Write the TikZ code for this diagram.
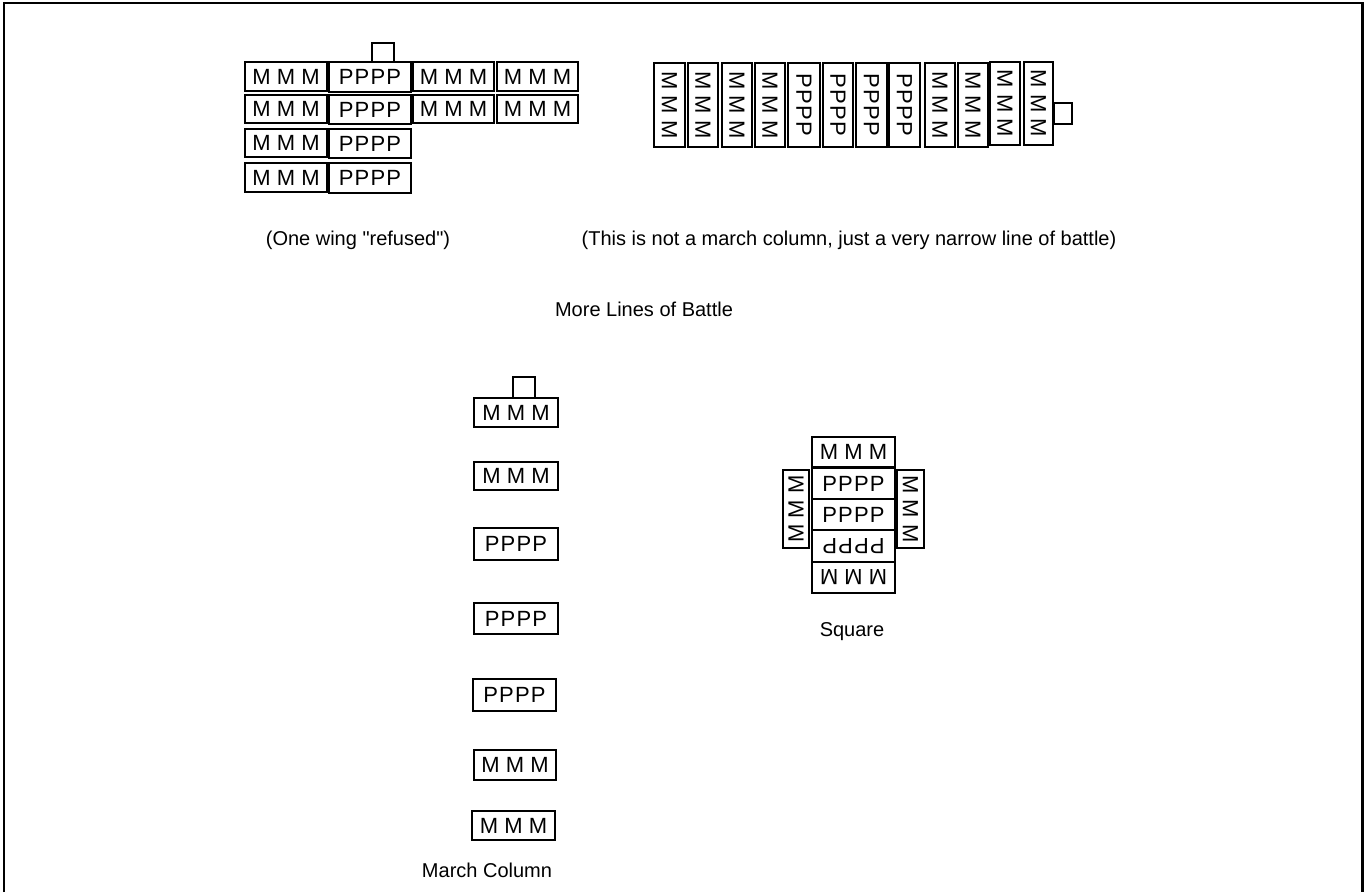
\documentclass[tikz,border=0pt]{standalone}
\usepackage{fontspec}
\newfontfamily\lsans{Liberation Sans}
\newcommand\unitfont{\lsans\fontsize{22}{22}\selectfont}
\newcommand\labfont{\lsans\fontsize{20}{20}\selectfont}
\newcommand\ubox[6]{\node[unit, minimum width={#4-#2}, minimum height={#5-#3}] (#1) at ({(#2+#4)/2},{(#3+#5)/2}) {#6};}
\newcommand\PPPP{P\kern1.2pt P\kern1.2pt P\kern1.2pt P}
\newcommand\vM{\rotatebox{-90}{M M M}}
\newcommand\vP{\rotatebox{-90}{\PPPP}}
\tikzset{
  unit/.style={draw, line width=1.1pt, inner sep=0pt, font=\unitfont},
  lab/.style={font=\labfont, inner sep=0pt},
  frame/.style={line width=2.7pt}
}
\begin{document}
\begin{tikzpicture}[x=1pt,y=-1pt]
\useasboundingbox (0,0) rectangle (1364,892);
\draw[frame] (4,892) -- (4,3) -- (1362.7,3) -- (1362.7,892);
% One wing refused
\ubox{a1}{245}{62}{327}{91}{M M M}
\ubox{b1}{329}{62}{411}{92}{\PPPP}
\ubox{c1}{413}{62}{494}{91}{M M M}
\ubox{d1}{497}{62}{578}{91}{M M M}
\ubox{a2}{245}{95}{327}{123}{M M M}
\ubox{b2}{329}{95}{411}{124}{\PPPP}
\ubox{c2}{413}{95}{494}{123}{M M M}
\ubox{d2}{497}{95}{578}{123}{M M M}
\ubox{a3}{245}{129}{327}{157}{M M M}
\ubox{b3}{329}{129}{411}{158}{\PPPP}
\ubox{a4}{245}{163}{327}{192}{M M M}
\ubox{b4}{329}{163}{411}{193}{\PPPP}
\ubox{cmdA}{372}{43}{394}{62}{}
% narrow line of battle
\ubox{n1}{654}{63}{685}{147}{\vM}
\ubox{n2}{688}{63}{718}{147}{\vM}
\ubox{n3}{722}{63}{752}{147}{\vM}
\ubox{n4}{755}{63}{785}{147}{\vM}
\ubox{n5}{788}{63}{820}{147}{\vP}
\ubox{n6}{823}{63}{853}{147}{\vP}
\ubox{n7}{856}{63}{887}{147}{\vP}
\ubox{n8}{889}{63}{920}{147}{\vP}
\ubox{n9}{925}{63}{955}{147}{\vM}
\ubox{n10}{958}{63}{988}{147}{\vM}
\ubox{n11}{990}{62}{1020}{145}{\vM}
\ubox{n12}{1024}{62}{1053}{145}{\vM}
\ubox{cmdB}{1054}{103}{1072}{124}{}
% labels
\node[lab] (l1) at (358,240) {(One wing "refused")};
\node[lab] (l2) at (849,240) {(This is not a march column, just a very narrow line of battle)};
\node[lab] (l3) at (644,309) {More Lines of Battle};
% march column
\ubox{cmdC}{513}{377}{535}{398}{}
\ubox{m1}{474}{398}{558}{427}{M M M}
\ubox{m2}{474}{462}{558}{490}{M M M}
\ubox{m3}{474}{528}{558}{560}{\PPPP}
\ubox{m4}{474}{603}{558}{634}{\PPPP}
\ubox{m5}{473}{679}{556}{711}{\PPPP}
\ubox{m6}{474}{750}{556}{780}{M M M}
\ubox{m7}{472}{811}{555}{840}{M M M}
\node[lab] (l4) at (487,870) {March Column};
% square
\ubox{s1}{812}{437}{895}{467}{M M M}
\ubox{s2}{812}{468}{895}{499}{\PPPP}
\ubox{s3}{812}{499}{895}{530}{\PPPP}
\ubox{s4}{812}{530}{895}{562}{\rotatebox{180}{\PPPP}}
\ubox{s5}{812}{562}{895}{593}{\rotatebox{180}{M M M}}
\ubox{s6}{783}{470}{809}{548}{\rotatebox{90}{M M M}}
\ubox{s7}{897}{470}{924}{548}{\vM}
\node[lab] (l5) at (852,632) {Square};
\end{tikzpicture}
\end{document}
